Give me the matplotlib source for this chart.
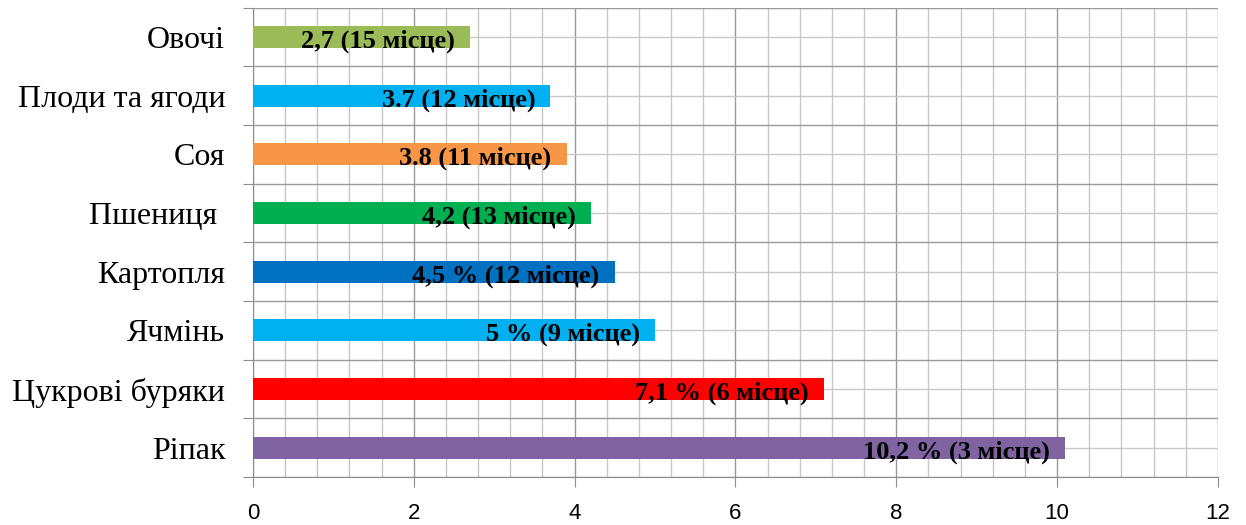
import matplotlib
matplotlib.use("Agg")
from matplotlib import pyplot as plt
from matplotlib.ticker import MultipleLocator
import numpy as np

# дані (знизу вгору)
crops = ["Ріпак", "Цукрові буряки", "Ячмінь", "Картопля", "Пшениця ",
         "Соя", "Плоди та ягоди", "Овочі"]
values = [10.1, 7.1, 5.0, 4.5, 4.2, 3.9, 3.7, 2.7]
labels = ["10,2 % (3 місце)", "7,1 % (6 місце)", "5 % (9 місце)",
          "4,5 % (12 місце)", "4,2 (13 місце)", "3.8 (11 місце)",
          "3.7 (12 місце)", "2,7 (15 місце)"]
colors = ["#8064A2", "#FF0000", "#00B0F0", "#0070C0", "#00B050",
          "#F79646", "#00B0F0", "#9BBB59"]

fig = plt.figure(figsize=(12.46, 5.25), dpi=100)
ax = fig.add_axes([0.203, 0.0914, 0.7745, 0.894])

y = np.arange(len(crops))
ax.barh(y, values, height=0.38, color=colors, zorder=3)

for yi, v, t in zip(y, values, labels):
    ax.annotate(t, (v, yi), xytext=(-11, -3), textcoords="offset points",
                ha="right", va="center", fontsize=19, fontweight="bold",
                family="Liberation Serif", color="black", zorder=4)

ax.set_xlim(0, 12)
ax.set_ylim(-0.5, len(crops) - 0.5)
ax.xaxis.set_major_locator(MultipleLocator(2))
ax.xaxis.set_minor_locator(MultipleLocator(0.4))

# межі категорій - основні поділки, центри - підписи
ax.set_yticks(np.arange(len(crops) + 1) - 0.5)
ax.set_yticklabels([])
ax.set_yticks(y, minor=True)
ax.set_yticklabels(crops, minor=True, fontsize=23, family="Liberation Serif")

ax.grid(which="major", color="#9A9A9A", linewidth=1.0, zorder=0)
ax.grid(which="minor", color="#C8C8C8", linewidth=1.0, zorder=0)

ax.tick_params(axis="y", which="major", length=7, color="#8C8C8C", direction="out")
ax.tick_params(axis="y", which="minor", length=0, pad=20)
ax.tick_params(axis="x", which="major", length=7, color="#8C8C8C", direction="out",
               labelsize=16, pad=12)
ax.tick_params(axis="x", which="minor", length=0)
for lab in ax.get_xticklabels():
    lab.set_family("Liberation Sans")

for s in ["top", "right"]:
    ax.spines[s].set_visible(False)
ax.spines["left"].set_color("#8C8C8C")
ax.spines["bottom"].set_color("#8C8C8C")

fig.savefig("out.png", dpi=100)
